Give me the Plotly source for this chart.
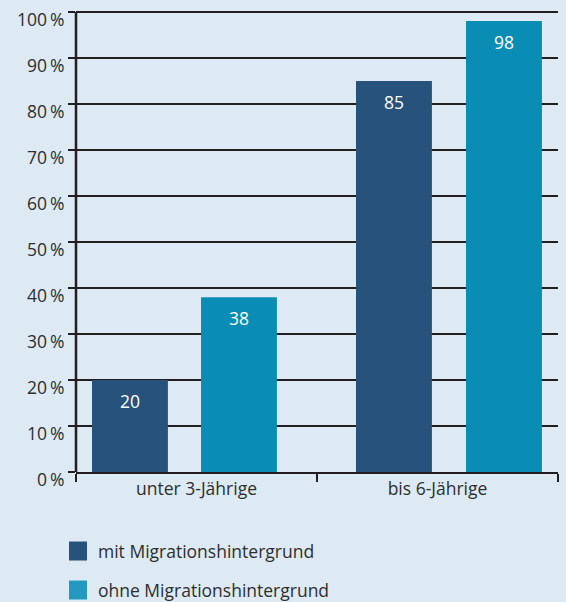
import plotly.graph_objects as go

# ---- data ----
categories = ["unter 3-Jährige", "bis 6-Jährige"]
series_names = ["mit Migrationshintergrund", "ohne Migrationshintergrund"]
mit_values = [20, 85]
ohne_values = [38, 98]
y_tick_values = [0, 10, 20, 30, 40, 50, 60, 70, 80, 90, 100]
y_tick_labels = [f"{v}\u2009%" for v in y_tick_values]

# ---- style ----
W, H = 566, 602
L, R, B = 76, 558, 472
PPU = 4.6              # pixels per percent
Y_MAX = 101.5
T = B - PPU * Y_MAX
BG = "#ddeaf4"
DARK = "#27527b"
TEAL = "#0a8db4"
TEAL_LEG = "#2398c0"
LINE = "#231f20"
TXT = "#2e2e2e"
FONT = "Open Sans"
FS = 17.5
bar_w = 0.315
mit_offsets = [-0.4336, -0.3382]
ohne_offsets = [0.0187, 0.1183]

def px_x(p):
    return (p - L) / (R - L)

def px_y(p):
    return (B - p) / (B - T)

fig = go.Figure()
fig.add_trace(go.Bar(x=categories, y=mit_values, name=series_names[0],
                     marker=dict(color=DARK, line=dict(width=0)),
                     width=[bar_w] * 2, offset=mit_offsets))
fig.add_trace(go.Bar(x=categories, y=ohne_values, name=series_names[1],
                     marker=dict(color=TEAL, line=dict(width=0)),
                     width=[bar_w] * 2, offset=ohne_offsets))

annotations = []
for vals, offs in ((mit_values, mit_offsets), (ohne_values, ohne_offsets)):
    for i, (v, o) in enumerate(zip(vals, offs)):
        annotations.append(dict(x=i + o + bar_w / 2, y=v, xref="x", yref="y",
                                text=str(v), showarrow=False, yanchor="middle",
                                yshift=-21, font=dict(family=FONT, size=FS, color="white")))

# y axis line only up to the top tick
shapes = [dict(type="line", xref="paper", yref="y", x0=0, x1=0,
               y0=y_tick_values[0], y1=y_tick_values[-1],
               line=dict(color=LINE, width=2.5), layer="above")]

# manual legend
leg_colors = [DARK, TEAL_LEG]
leg_centers = [551, 590]
for name, col, cy in zip(series_names, leg_colors, leg_centers):
    shapes.append(dict(type="rect", xref="paper", yref="paper",
                       x0=px_x(69), x1=px_x(87), y0=px_y(cy - 9.5), y1=px_y(cy + 9.5),
                       fillcolor=col, line=dict(width=0)))
    annotations.append(dict(x=px_x(96), y=px_y(cy), xref="paper", yref="paper",
                            text=name, showarrow=False, xanchor="left", yanchor="middle",
                            font=dict(family=FONT, size=FS, color=TXT)))

fig.update_layout(
    width=W, height=H,
    margin=dict(l=L, r=W - R, t=T, b=H - B, pad=0),
    paper_bgcolor=BG, plot_bgcolor=BG,
    showlegend=False,
    barmode="overlay",
    font=dict(family=FONT, size=FS, color=TXT),
    shapes=shapes,
    annotations=annotations,
    xaxis=dict(type="category", range=[-0.5, 1.5], showline=True, linewidth=2,
               linecolor=LINE, ticks="outside", tickson="boundaries", ticklen=8,
               tickwidth=2, tickcolor=LINE, showgrid=False, zeroline=False,
               tickfont=dict(family=FONT, size=FS, color=TXT), fixedrange=True),
    yaxis=dict(range=[0, Y_MAX], tickvals=y_tick_values, ticktext=y_tick_labels,
               showline=False, ticks="outside",
               ticklen=7, tickwidth=2, tickcolor=LINE, showgrid=True,
               gridcolor=LINE, gridwidth=2, zeroline=False,
               ticklabelshift=8, ticklabelstandoff=0,
               tickfont=dict(family=FONT, size=FS, color=TXT), fixedrange=True),
)

fig.write_html("out.html")
